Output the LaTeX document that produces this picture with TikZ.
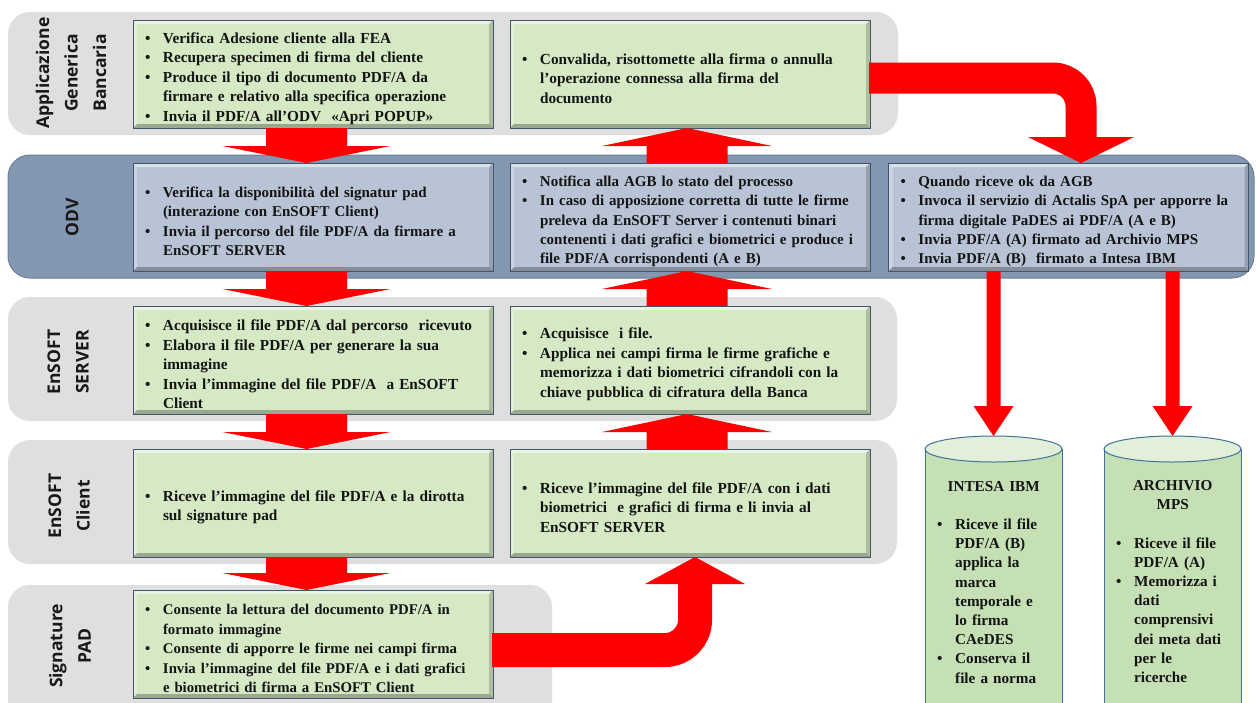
\documentclass[tikz,border=0pt]{standalone}
\usepackage{fontspec}
\setmainfont{Liberation Serif}
\newfontfamily\lanefont{Open Sans}
\usetikzlibrary{calc}
\definecolor{lanegray}{RGB}{223,223,223}
\definecolor{odvlanecol}{RGB}{132,151,176}
\definecolor{odvlaneborder}{RGB}{108,126,152}
\definecolor{greenbox}{RGB}{213,233,197}
\definecolor{bluebox}{RGB}{184,196,214}
\definecolor{boxborder}{RGB}{66,84,110}
\definecolor{cylbody}{RGB}{197,224,180}
\definecolor{cyltop}{RGB}{226,240,217}
\definecolor{cylborder}{RGB}{65,113,156}
\definecolor{arrowred}{RGB}{255,0,0}
\newcommand\bul[1]{\par\hangindent=18pt\hangafter=1\noindent\hbox to 18pt{\textbullet\hfil}#1\par}
\newcommand\bevel[1]{%
  \fill[white,opacity=.5] (#1.north west) -- (#1.north east) -- ($(#1.north east)+(-4,4)$) -- ($(#1.north west)+(4,4)$) -- cycle;
  \fill[white,opacity=.3] (#1.north west) -- ($(#1.north west)+(4,4)$) -- ($(#1.south west)+(4,-4)$) -- (#1.south west) -- cycle;
  \fill[black,opacity=.28] (#1.south west) -- (#1.south east) -- ($(#1.south east)+(-4,-4)$) -- ($(#1.south west)+(4,-4)$) -- cycle;
  \fill[black,opacity=.18] (#1.north east) -- (#1.south east) -- ($(#1.south east)+(-4,-4)$) -- ($(#1.north east)+(-4,4)$) -- cycle;
  \draw[boxborder,line width=0.9pt] (#1.north west) rectangle (#1.south east);}
% down block arrow: #1 source node, #2 target node, #3 x offset
\newcommand\bigdown[3]{%
  \fill[arrowred] ($(#1.south)+(#3-40.5,0)$) -- ($(#2.north)+(#3-40.5,-17)$) -- ($(#2.north)+(#3-84,-17)$) -- ($(#2.north)+(#3,0)$) -- ($(#2.north)+(#3+84,-17)$) -- ($(#2.north)+(#3+40.5,-17)$) -- ($(#1.south)+(#3+40.5,0)$) -- cycle;}
% up block arrow: #1 source (lower) node, #2 target (upper) node, #3 x offset
\newcommand\bigup[3]{%
  \fill[arrowred] ($(#1.north)+(#3-40.5,0)$) -- ($(#2.south)+(#3-40.5,18)$) -- ($(#2.south)+(#3-85,18)$) -- ($(#2.south)+(#3,0)$) -- ($(#2.south)+(#3+85,18)$) -- ($(#2.south)+(#3+40.5,18)$) -- ($(#1.north)+(#3+40.5,0)$) -- cycle;}
% thin down arrow from odv3 to coordinate #1
\newcommand\thindown[1]{%
  \fill[arrowred] ($(odv3.south -| #1)+(-7,0)$) -- ($(#1)+(-7,-30)$) -- ($(#1)+(-20,-30)$) -- (#1) -- ($(#1)+(20,-30)$) -- ($(#1)+(7,-30)$) -- ($(odv3.south -| #1)+(7,0)$) -- cycle;}
\begin{document}
\begin{tikzpicture}[x=1pt,y=-1pt,
  lane/.style={fill=lanegray, rounded corners=22pt, inner sep=0pt, outer sep=0pt},
  odvlane/.style={fill=odvlanecol, draw=odvlaneborder, line width=1pt, rounded corners=22pt, inner sep=0pt, outer sep=0pt},
  lanelab/.style={rotate=90, align=center, font=\lanefont\bfseries\fontsize{17.5}{28.5}\selectfont, text=black!90},
  procbox/.style={outer sep=0pt, inner xsep=12pt, inner ysep=3pt, minimum width=360pt, minimum height=108pt,
     text width=336pt, align=left, font=\bfseries\fontsize{15.3}{19.5}\selectfont, text=black!92},
  gbox/.style={procbox, fill=greenbox},
  bbox/.style={procbox, fill=bluebox, font=\bfseries\fontsize{15}{19.2}\selectfont},
  cyltxt/.style={anchor=north west, inner sep=0pt, text width=113pt, align=left, font=\bfseries\fontsize{15.2}{19.2}\selectfont, text=black!92},
  cylside/.style={draw=cylborder, line width=1pt}
]
\useasboundingbox (0,0) rectangle (1256,702);
\clip (0,0) rectangle (1256,702);
\fill[white] (0,0) rectangle (1256,702);

% lanes
\node[lane, minimum width=890pt, minimum height=123pt] (lane1) at (453,73.5) {};
\node[odvlane, minimum width=1246pt, minimum height=123pt] (lane2) at (631,216.5) {};
\node[lane, minimum width=889pt, minimum height=124pt] (lane3) at (452.5,359) {};
\node[lane, minimum width=889pt, minimum height=124pt] (lane4) at (452.5,502) {};
\node[lane, minimum width=544pt, minimum height=150pt] (lane5) at (280,660) {};

\node[lanelab] (lab1) at (71,73) {Applicazione\\Generica\\Bancaria};
\node[lanelab] (lab2) at (72,217) {ODV};
\node[lanelab] (lab3) at (68,362) {EnSOFT\\SERVER};
\node[lanelab] (lab4) at (69,506) {EnSOFT\\Client};
\node[lanelab] (lab5) at (70,646) {Signature\\PAD};

% cylinders
\fill[cylbody] (925,449) rectangle (1062,730);
\draw[cylside] (925,449) -- (925,730) (1062,449) -- (1062,730);
\filldraw[fill=cyltop, cylside] (993.5,449) ellipse [x radius=68.5pt, y radius=13pt];
\coordinate (intesatop) at (993.5,436);
\fill[cylbody] (1104,449) rectangle (1241,730);
\draw[cylside] (1104,449) -- (1104,730) (1241,449) -- (1241,730);
\filldraw[fill=cyltop, cylside] (1172.5,449) ellipse [x radius=68.5pt, y radius=13pt];
\coordinate (archtop) at (1172.5,436);

\node[cyltxt] (intesatxt) at (937,481) {{\centering INTESA IBM\par}\vspace{19pt}%
  \bul{Riceve il file\newline PDF/A (B)\newline applica la\newline marca\newline temporale e\newline lo firma\newline CAeDES}%
  \bul{Conserva il\newline file a norma}};
\node[cyltxt] (archtxt) at (1116,480) {{\centering ARCHIVIO\\MPS\par}\vspace{19.5pt}%
  \bul{Riceve il file\newline PDF/A (A)}%
  \bul{Memorizza i\newline dati\newline comprensivi\newline dei meta dati\newline per le\newline ricerche}};

% boxes
\node[gbox] (agb1) at (313,74) {%
  \bul{Verifica Adesione cliente alla FEA}%
  \bul{Recupera specimen di firma del cliente}%
  \bul{Produce il tipo di documento PDF/A da\newline firmare e relativo alla specifica operazione}%
  \bul{Invia il PDF/A all’ODV~ «Apri POPUP»}};
\bevel{agb1}
\node[gbox] (agb2) at (690,74) {%
  \bul{Convalida, risottomette alla firma o annulla\newline l’operazione connessa alla firma del\newline documento}};
\bevel{agb2}
\node[bbox] (odv1) at (313,217) {%
  \bul{Verifica la disponibilità del signatur pad\newline (interazione con EnSOFT Client)}%
  \bul{Invia il percorso del file PDF/A da firmare a\newline EnSOFT SERVER}};
\bevel{odv1}
\node[bbox] (odv2) at (690,217) {%
  \bul{Notifica alla AGB lo stato del processo}%
  \bul{In caso di apposizione corretta di tutte le firme\newline preleva da EnSOFT Server i contenuti binari\newline contenenti i dati grafici e biometrici e produce i\newline file PDF/A corrispondenti (A e B)}};
\bevel{odv2}
\node[bbox] (odv3) at (1068.5,217) {%
  \bul{Quando riceve ok da AGB}%
  \bul{Invoca il servizio di Actalis SpA per apporre la\newline firma digitale PaDES ai PDF/A (A e B)}%
  \bul{Invia PDF/A (A) firmato ad Archivio MPS}%
  \bul{Invia PDF/A (B)~ firmato a Intesa IBM}};
\bevel{odv3}
\node[gbox] (server1) at (313,360) {%
  \bul{Acquisisce il file PDF/A dal percorso~ ricevuto}%
  \bul{Elabora il file PDF/A per generare la sua\newline immagine}%
  \bul{Invia l’immagine del file PDF/A~ a EnSOFT\newline Client}};
\bevel{server1}
\node[gbox] (server2) at (690,360) {%
  \bul{Acquisisce~ i file.}%
  \bul{Applica nei campi firma le firme grafiche e\newline memorizza i dati biometrici cifrandoli con la\newline chiave pubblica di cifratura della Banca}};
\bevel{server2}
\node[gbox] (client1) at (313,503) {%
  \bul{Riceve l’immagine del file PDF/A e la dirotta\newline sul signature pad}};
\bevel{client1}
\node[gbox] (client2) at (690,503) {%
  \bul{Riceve l’immagine del file PDF/A con i dati\newline biometrici~ e grafici di firma e li invia al\newline EnSOFT SERVER}};
\bevel{client2}
\node[gbox, font=\bfseries\fontsize{14.8}{19.5}\selectfont] (pad1) at (313,644) {%
  \bul{Consente la lettura del documento PDF/A in\newline formato immagine}%
  \bul{Consente di apporre le firme nei campi firma}%
  \bul{Invia l’immagine del file PDF/A e i dati grafici\newline e biometrici di firma a EnSOFT Client}};
\bevel{pad1}

% straight block arrows
\bigdown{agb1}{odv1}{-6.5}
\bigdown{odv1}{server1}{-6.5}
\bigdown{server1}{client1}{-6.5}
\bigdown{client1}{pad1}{-6.5}
\bigup{client2}{server2}{-3}
\bigup{server2}{odv2}{-3}
\bigup{odv2}{agb2}{-3}

% curved arrow AGB -> ODV3
\coordinate (agbout) at ($(agb2.east)+(0,4)$);
\coordinate (o3tip) at ($(odv3.north)+(12.5,0)$);
\draw[arrowred, line width=31pt, rounded corners=28pt] ($(agbout)+(-1,0)$) -- (agbout -| o3tip) -- ($(o3tip)+(0,-25)$);
\fill[arrowred] ($(o3tip)+(-53,-26)$) -- (o3tip) -- ($(o3tip)+(53,-26)$) -- cycle;

% curved arrow PAD -> Client2
\coordinate (padout) at ($(pad1.east)+(0,6)$);
\coordinate (c2tip) at ($(client2.south)+(5,0)$);
\draw[arrowred, line width=34pt, rounded corners=30pt] ($(padout)+(-1,0)$) -- (padout -| c2tip) -- ($(c2tip)+(0,26)$);
\fill[arrowred] ($(c2tip)+(-50,27)$) -- (c2tip) -- ($(c2tip)+(50,27)$) -- cycle;

% thin arrows ODV3 -> archives
\thindown{intesatop}
\thindown{archtop}
\end{tikzpicture}
\end{document}
